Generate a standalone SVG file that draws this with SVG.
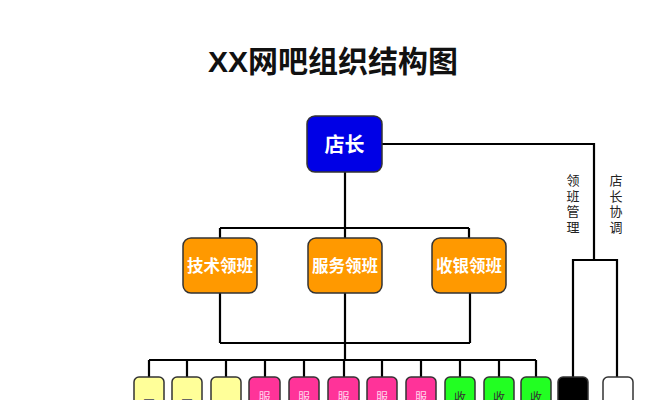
<svg xmlns="http://www.w3.org/2000/svg" width="667" height="400" viewBox="0 0 667 400">
<style>
  .title{font-family:"Liberation Sans","Noto Sans CJK SC",sans-serif;font-weight:bold;font-size:30px;fill:#111;text-anchor:middle}
  .lbl{font-family:"Noto Sans CJK SC",sans-serif;font-weight:bold;fill:#fff;text-anchor:middle}
  .vt{font-family:"Noto Sans CJK SC",sans-serif;font-size:13px;fill:#222;writing-mode:vertical-rl;letter-spacing:2.5px}
  .sm{font-family:"Noto Sans CJK SC",sans-serif;font-size:12px;text-anchor:middle}
  .box{stroke:#333;stroke-width:1.5}
  .conn{fill:none;stroke:#000;stroke-width:2.2}
</style>
<rect width="667" height="400" fill="#fff"/>
<text class="title" x="333" y="72">XX网吧组织结构图</text>

<g id="connectors">
  <path class="conn" d="M345 172V228M220 228H469M220 228V238M345 228V238M469 228V238"/>
  <path class="conn" d="M220 293V343M345 293V360M470 293V343M220 343H470"/>
  <path class="conn" d="M149 360H536M149 360V377M187 360V377M226 360V377M265 360V377M304 360V377M344 360V377M382 360V377M421 360V377M460 360V377M499 360V377M536 360V377"/>
  <path class="conn" d="M382 144H594V260M573 377V260H617V377"/>
</g>

<g id="n-dianzhang">
  <rect class="box" x="307" y="116" width="75" height="56" rx="8" fill="#0000e6" stroke="#001" />
  <text class="lbl" x="344.5" y="152" font-size="20">店长</text>
</g>
<g id="n-jishu">
  <rect class="box" x="183" y="238" width="74" height="55" rx="8" fill="#ff9900"/>
  <text class="lbl" x="220" y="272" font-size="16.5">技术领班</text>
</g>
<g id="n-fuwu">
  <rect class="box" x="308" y="238" width="74" height="55" rx="8" fill="#ff9900"/>
  <text class="lbl" x="345" y="272" font-size="16.5">服务领班</text>
</g>
<g id="n-shouyin">
  <rect class="box" x="432" y="238" width="74" height="55" rx="8" fill="#ff9900"/>
  <text class="lbl" x="469" y="272" font-size="16.5">收银领班</text>
</g>

<g id="label-lingban">
  <text class="vt" x="573" y="174">领班管理</text>
</g>
<g id="label-xietiao">
  <text class="vt" x="616" y="174">店长协调</text>
</g>

<g id="n-y1"><rect class="box" x="134" y="377" width="30" height="60" rx="5" fill="#ffff99"/><text class="sm" x="149" y="409" fill="#666">网</text></g>
<g id="n-y2"><rect class="box" x="172" y="377" width="30" height="60" rx="5" fill="#ffff99"/><text class="sm" x="187" y="409" fill="#666">网</text></g>
<g id="n-y3"><rect class="box" x="211" y="377" width="30" height="60" rx="5" fill="#ffff99"/></g>
<g id="n-p1"><rect class="box" x="249" y="377" width="31" height="60" rx="5" fill="#ff3399"/><text class="sm" x="264.5" y="402" fill="#ffd6ec">服</text></g>
<g id="n-p2"><rect class="box" x="289" y="377" width="30" height="60" rx="5" fill="#ff3399"/><text class="sm" x="304" y="402" fill="#ffd6ec">服</text></g>
<g id="n-p3"><rect class="box" x="328" y="377" width="31" height="60" rx="5" fill="#ff3399"/><text class="sm" x="343.5" y="402" fill="#ffd6ec">服</text></g>
<g id="n-p4"><rect class="box" x="367" y="377" width="30" height="60" rx="5" fill="#ff3399"/><text class="sm" x="382" y="402" fill="#ffd6ec">服</text></g>
<g id="n-p5"><rect class="box" x="406" y="377" width="30" height="60" rx="5" fill="#ff3399"/><text class="sm" x="421" y="402" fill="#ffd6ec">服</text></g>
<g id="n-g1"><rect class="box" x="445" y="377" width="30" height="60" rx="5" fill="#22ff22"/><text class="sm" x="460" y="402" fill="#333">收</text></g>
<g id="n-g2"><rect class="box" x="484" y="377" width="30" height="60" rx="5" fill="#22ff22"/><text class="sm" x="499" y="402" fill="#333">收</text></g>
<g id="n-g3"><rect class="box" x="521" y="377" width="30" height="60" rx="5" fill="#22ff22"/><text class="sm" x="536" y="402" fill="#333">收</text></g>
<g id="n-black"><rect class="box" x="558" y="377" width="30" height="60" rx="5" fill="#000"/></g>
<g id="n-white"><rect class="box" x="603" y="377" width="30" height="60" rx="5" fill="#fff"/></g>
</svg>
